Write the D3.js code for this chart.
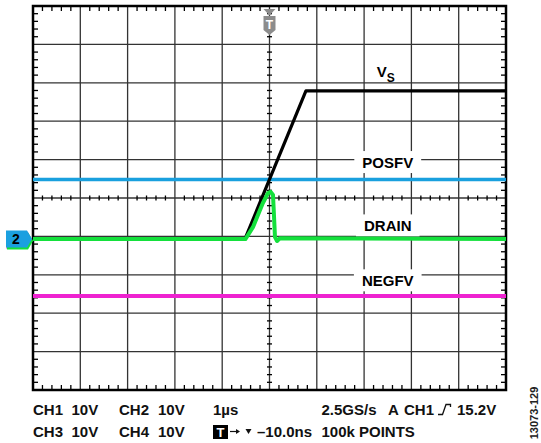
<!DOCTYPE html>
<html>
<head>
<meta charset="utf-8">
<script src="https://cdn.jsdelivr.net/npm/d3@7"></script>
<style>
	body { margin: 0; background: #fff; }
	svg { display: block; }
	text { font-family: "Liberation Sans", Arial, sans-serif; font-weight: bold; }
</style>
</head>
<body>
<script>
const w = 541,
	h = 443;

// time in µs (1 µs/div), levels in divisions from screen centre
const vsTime = [-5, -0.52, 0.77, 5];
const vsLevel = [-1.07, -1.07, 2.79, 2.79];

const drainTime = [-5, -0.51, -0.35, -0.14, -0.03, 0.025, 0.074, 0.116, 0.16, 0.22, 5];
const drainLevel = [-1.07, -1.07, -0.76, -0.13, 0.13, 0.16, 0.08, -1.02, -1.12, -1.05, -1.07];

const posfvTime = [-5, 5];
const posfvLevel = [0.48, 0.48];

const negfvTime = [-5, 5];
const negfvLevel = [-2.55, -2.55];

const traceLabels = ['POSFV', 'DRAIN', 'NEGFV'];
const traceLabelLevels = [0.78, -0.87, -2.3];

const infoRow1 = ['CH1', '10V', 'CH2', '10V', '1µs', '2.5GS/s', 'A', 'CH1', '15.2V'];
const infoRow2 = ['CH3', '10V', 'CH4', '10V', '–10.0ns', '100k', 'POINTS'];

const pLeft = 33, pRight = 506, pTop = 6, pBottom = 390;

const x = d3.scaleLinear().domain([-5, 5]).range([pLeft, pRight]);
const y = d3.scaleLinear().domain([-5, 5]).range([pBottom, pTop]);

const svg = d3.select('body')
	.append('svg')
	.attr('width', w)
	.attr('height', h);

//grid
const major = d3.range(-4, 5);
svg.append('g')
	.selectAll('line')
	.data(major)
	.enter()
	.append('line')
	.attr('x1', (d) => x(d)).attr('x2', (d) => x(d))
	.attr('y1', pTop).attr('y2', pBottom)
	.attr('stroke', '#333').attr('stroke-width', 1.3);
svg.append('g')
	.selectAll('line')
	.data(major)
	.enter()
	.append('line')
	.attr('y1', (d) => y(d)).attr('y2', (d) => y(d))
	.attr('x1', pLeft).attr('x2', pRight)
	.attr('stroke', '#333').attr('stroke-width', 1.3);

//minor ticks on frame and centre lines
const minor = d3.range(-4.8, 5, 0.2).filter((d) => Math.abs(Math.round(d) - d) > 0.01);
const ticks = svg.append('g').attr('stroke', '#000').attr('stroke-width', 1.3);
minor.forEach((d) => {
	ticks.append('line').attr('x1', x(d)).attr('x2', x(d)).attr('y1', pTop).attr('y2', pTop + 5);
	ticks.append('line').attr('x1', x(d)).attr('x2', x(d)).attr('y1', pBottom).attr('y2', pBottom - 5);
	ticks.append('line').attr('x1', x(d)).attr('x2', x(d)).attr('y1', y(0) - 2.5).attr('y2', y(0) + 2.5);
	ticks.append('line').attr('y1', y(d)).attr('y2', y(d)).attr('x1', pLeft).attr('x2', pLeft + 5);
	ticks.append('line').attr('y1', y(d)).attr('y2', y(d)).attr('x1', pRight).attr('x2', pRight - 5);
	ticks.append('line').attr('y1', y(d)).attr('y2', y(d)).attr('x1', x(0) - 2.5).attr('x2', x(0) + 2.5);
});

//frame
svg.append('rect')
	.attr('x', pLeft).attr('y', pTop)
	.attr('width', pRight - pLeft).attr('height', pBottom - pTop)
	.attr('fill', 'none').attr('stroke', '#000').attr('stroke-width', 2.5);

//trace labels with white boxes
const labelX = (x(2) + x(3)) / 2;
traceLabels.forEach((t, i) => {
	const g = svg.append('g');
	const txt = g.append('text')
		.attr('x', labelX).attr('y', y(traceLabelLevels[i]))
		.attr('text-anchor', 'middle')
		.attr('font-size', 15)
		.text(t);
	const bb = txt.node().getBBox();
	g.insert('rect', 'text')
		.attr('x', bb.x - 8).attr('y', bb.y - 3)
		.attr('width', bb.width + 16).attr('height', bb.height + 5)
		.attr('fill', '#fff');
});

//V_S label
const vs = svg.append('text')
	.attr('x', labelX - 11).attr('y', 77)
	.attr('font-size', 15);
vs.append('tspan').text('V');
vs.append('tspan').attr('dy', 4.5).attr('font-size', 12).text('S');

//trigger marker at top
const tg = svg.append('g').attr('fill', '#8c8c8c');
const cx = x(0);
tg.append('path').attr('d', `M${cx - 6},9 L${cx + 6},9 L${cx},15.5 Z`);
tg.append('path').attr('d', `M${cx - 6},16 L${cx + 6},16 L${cx + 6},30 L${cx},35 L${cx - 6},30 Z`);
svg.append('text')
	.attr('x', cx).attr('y', 29)
	.attr('text-anchor', 'middle')
	.attr('font-size', 12)
	.attr('fill', '#fff')
	.text('T');

//traces
const line = d3.line()
	.x((d) => x(d[0]))
	.y((d) => y(d[1]));

const traces = [
	{t: negfvTime, v: negfvLevel, color: '#ee22d0', width: 4},
	{t: posfvTime, v: posfvLevel, color: '#19a0de', width: 3.5},
	{t: vsTime, v: vsLevel, color: '#000', width: 3.2},
	{t: drainTime, v: drainLevel, color: '#14e03c', width: 4}
];
traces.forEach((tr) => {
	svg.append('path')
		.datum(d3.zip(tr.t, tr.v))
		.attr('d', line)
		.attr('fill', 'none')
		.attr('stroke', tr.color)
		.attr('stroke-width', tr.width)
		.attr('stroke-linejoin', 'round');
});

//channel 2 marker
const my = y(drainLevel[0]);
const marker = (dx, dy, c) => svg.append('path')
	.attr('d', `M${6 + dx},${my - 8.5 + dy} L${27 + dx},${my - 8.5 + dy} L${32 + dx},${my + dy} L${27 + dx},${my + 8.5 + dy} L${6 + dx},${my + 8.5 + dy} Z`)
	.attr('fill', c);
marker(0.5, 1.2, '#ee22d0');
marker(1, 2, '#14e03c');
marker(0, 0, '#1ba0e0');
svg.append('text')
	.attr('x', 16).attr('y', my + 5)
	.attr('text-anchor', 'middle')
	.attr('font-size', 14)
	.text('2');

//bottom info text
const row1X = [33, 71.5, 119, 158, 213, 321.5, 388, 404, 457];
const row2X = [33, 71.5, 119, 158, 257, 321.5, 359];
const info = svg.append('g').attr('font-size', 15).attr('fill', '#111');
infoRow1.forEach((t, i) => {
	info.append('text').attr('x', row1X[i]).attr('y', 415).text(t);
});
infoRow2.forEach((t, i) => {
	info.append('text').attr('x', row2X[i]).attr('y', 437).text(t);
});

//trigger slope icon
svg.append('path')
	.attr('d', 'M438,414.5 L442.5,414.5 L446,404.5 L450.5,404.5 L450.5,407')
	.attr('fill', 'none').attr('stroke', '#111').attr('stroke-width', 1.3);

//T box, arrow, small triangle
svg.append('rect').attr('x', 213).attr('y', 425).attr('width', 15).attr('height', 14).attr('fill', '#000');
svg.append('text')
	.attr('x', 220.5).attr('y', 437)
	.attr('text-anchor', 'middle')
	.attr('font-size', 13)
	.attr('fill', '#fff')
	.text('T');
svg.append('path').attr('d', 'M230,431.5 L237,431.5').attr('stroke', '#111').attr('stroke-width', 1.2);
svg.append('path').attr('d', 'M236,429 L240,431.5 L236,434 Z').attr('fill', '#111');
svg.append('path').attr('d', 'M245.5,429 L251.5,429 L248.5,434 Z').attr('fill', '#111');

//figure id
svg.append('text')
	.attr('transform', 'translate(538,413) rotate(-90)')
	.attr('text-anchor', 'middle')
	.attr('font-size', 11)
	.attr('font-weight', 'normal')
	.attr('fill', '#222')
	.text('13073-129');
</script>
</body>
</html>
